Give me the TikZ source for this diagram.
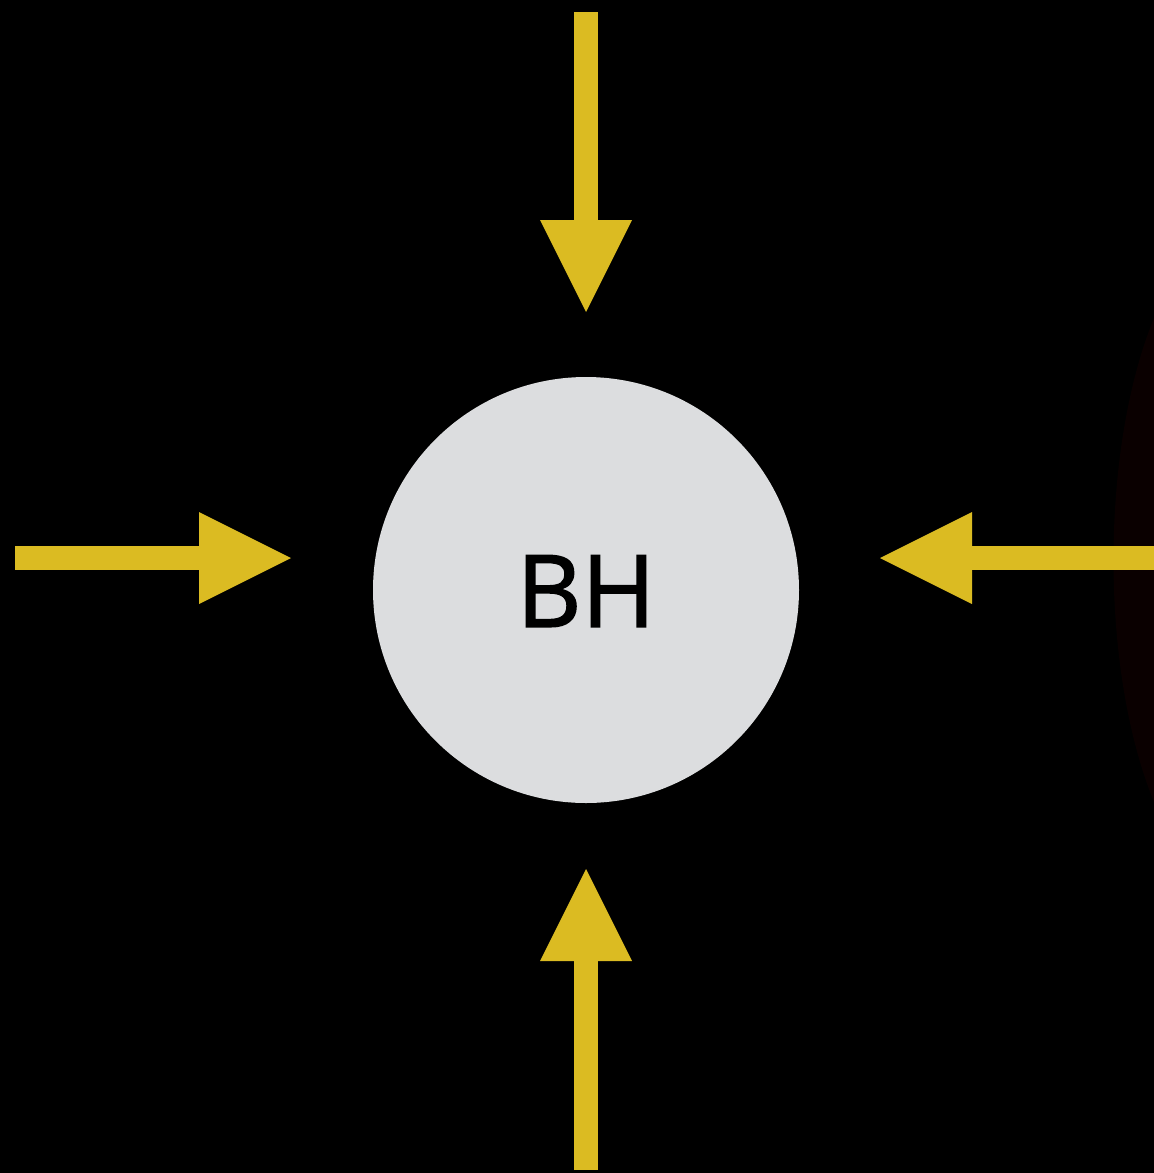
\documentclass[tikz,border=0pt]{standalone}
\usepackage{fontspec}
\setmainfont{Open Sans}
\newfontfamily\bhfont[FakeBold=1.6]{Open Sans}
\usetikzlibrary{arrows.meta}
\definecolor{flowyellow}{HTML}{DBBB22}
\definecolor{bhgray}{HTML}{DCDDDF}
\definecolor{darkglow}{HTML}{0A0000}
\tikzset{
  flow/.style={draw=flowyellow, line width=24pt, -{Triangle[length=92pt,width=92pt,line width=0pt,fill=flowyellow]}},
  bh/.style={circle, fill=bhgray, minimum size=426pt, inner sep=0pt},
  bhtext/.style={font=\bhfont\fontsize{100}{100}\selectfont, text=black}
}
\begin{document}
\begin{tikzpicture}[x=1pt,y=-1pt]
\fill[black] (0,0) rectangle (1154,1173);
\useasboundingbox (0,0) rectangle (1154,1173);
\fill[darkglow] (1154,318) .. controls (1100,450) and (1100,670) .. (1154,802) -- cycle;
\node[bh] (bh) at (586,590) {};
\node[bhtext] (bhlabel) at (586,591) {BH};
\coordinate (t0) at (586,12);   \coordinate (t1) at (586,312);
\coordinate (b0) at (586,1170); \coordinate (b1) at (586,869);
\coordinate (l0) at (15,558);   \coordinate (l1) at (291,558);
\coordinate (r0) at (1154,558); \coordinate (r1) at (880,558);
\draw[flow] (t0) -- (t1);
\draw[flow] (b0) -- (b1);
\draw[flow] (l0) -- (l1);
\draw[flow] (r0) -- (r1);
\end{tikzpicture}
\end{document}
